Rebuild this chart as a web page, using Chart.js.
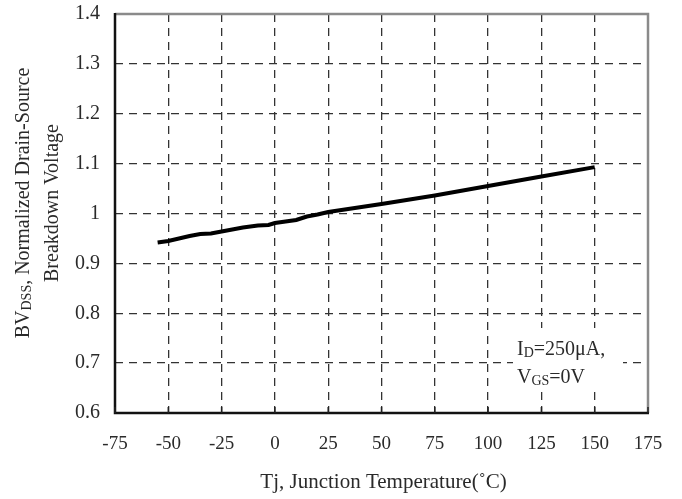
<!DOCTYPE html>
<html>
<head>
<meta charset="utf-8">
<script src="https://cdn.jsdelivr.net/npm/chart.js@4.4.1/dist/chart.umd.min.js"></script>
<style>
  html, body { margin: 0; padding: 0; background: #fff; }
  #wrap { width: 682px; height: 499px; position: relative; }
</style>
</head>
<body>
<div id="wrap"><canvas id="chart" width="682" height="499"></canvas></div>
<script>
  /* ── Data ────────────────────────────────────────────────────────────── */
  const temps   = [-55, -50, -40, -35, -30, -25, -15, -8, -3, 0, 5, 10, 15, 20, 25, 50, 75, 100, 125, 150];
  const bvNorm  = [0.942, 0.945, 0.955, 0.959, 0.960, 0.964, 0.972, 0.976, 0.977, 0.981, 0.984, 0.987, 0.994, 0.998, 1.003, 1.019, 1.036, 1.055, 1.074, 1.093];
  const xTicks  = [-75, -50, -25, 0, 25, 50, 75, 100, 125, 150, 175];
  const yTicks  = [0.6, 0.7, 0.8, 0.9, 1.0, 1.1, 1.2, 1.3, 1.4];

  const FONT = '"Liberation Serif", "DejaVu Serif", serif';
  const TEXT = '#2a2a2a';

  /* ── Helper: draw a run of [text, isSub] pieces ──────────────────────── */
  function runWidth(ctx, parts, size, subSize) {
    let w = 0;
    parts.forEach(([t, sub]) => {
      ctx.font = `${sub ? subSize : size}px ${FONT}`;
      w += ctx.measureText(t).width;
    });
    return w;
  }

  function drawRun(ctx, parts, x, y, size, subSize) {
    parts.forEach(([t, sub]) => {
      ctx.font = `${sub ? subSize : size}px ${FONT}`;
      ctx.fillText(t, x, sub ? y + size * 0.12 : y);
      x += ctx.measureText(t).width;
    });
  }

  /* ── Frame, inner ticks, titles and note ─────────────────────────────── */
  const decor = {
    id: 'decor',
    afterDatasetsDraw(chart) {
      const { ctx, chartArea: a, scales } = chart;
      ctx.save();
      ctx.setLineDash([]);

      // top / right frame (grey)
      ctx.strokeStyle = '#8a8a8a';
      ctx.lineWidth = 2.5;
      ctx.beginPath();
      ctx.moveTo(a.left, a.top);
      ctx.lineTo(a.right, a.top);
      ctx.lineTo(a.right, a.bottom);
      ctx.stroke();

      // left / bottom frame (black)
      ctx.strokeStyle = '#111';
      ctx.beginPath();
      ctx.moveTo(a.left, a.top - 1);
      ctx.lineTo(a.left, a.bottom);
      ctx.lineTo(a.right + 1, a.bottom);
      ctx.stroke();

      // short inner ticks on the bottom axis
      ctx.strokeStyle = '#222';
      ctx.lineWidth = 1.5;
      xTicks.forEach(v => {
        const px = scales.x.getPixelForValue(v);
        ctx.beginPath();
        ctx.moveTo(px, a.bottom);
        ctx.lineTo(px, a.bottom - 6);
        ctx.stroke();
      });

      // condition note with white backing
      ctx.fillStyle = '#fff';
      ctx.fillRect(513, 328, 110, 64);
      ctx.fillStyle = TEXT;
      ctx.textBaseline = 'alphabetic';
      ctx.textAlign = 'left';
      drawRun(ctx, [['I', false], ['D', true], ['=250\u03bcA,', false]], 517, 355, 20, 14);
      drawRun(ctx, [['V', false], ['GS', true], ['=0V', false]], 517, 383, 20, 14);

      // x title
      ctx.textAlign = 'center';
      ctx.font = `21px ${FONT}`;
      ctx.fillText('Tj, Junction Temperature(\u02daC)', (a.left + a.right) / 2 + 2, 488);

      // y title (rotated, two lines, subscript)
      ctx.rotate(-Math.PI / 2);
      ctx.textAlign = 'left';
      const cy = 203;
      const line1 = [['BV', false], ['DSS', true], [', Normalized Drain-Source', false]];
      const w1 = runWidth(ctx, line1, 20, 14);
      drawRun(ctx, line1, -cy - w1 / 2, 29, 20, 14);
      const line2 = [['Breakdown Voltage', false]];
      const w2 = runWidth(ctx, line2, 20, 14);
      drawRun(ctx, line2, -cy - w2 / 2, 58, 20, 14);

      ctx.restore();
    }
  };

  /* ── Chart ───────────────────────────────────────────────────────────── */
  new Chart(document.getElementById('chart').getContext('2d'), {
    type: 'line',
    data: {
      datasets: [{
        data: temps.map((t, i) => ({ x: t, y: bvNorm[i] })),
        borderColor: '#000',
        borderWidth: 4,
        pointRadius: 0,
        tension: 0,
        fill: false,
      }],
    },
    options: {
      responsive: false,
      animation: false,
      devicePixelRatio: 1,
      layout: { padding: { top: 14, right: 34, left: 0, bottom: 0 } },
      plugins: { legend: { display: false }, tooltip: { enabled: false } },
      scales: {
        x: {
          type: 'linear',
          min: xTicks[0],
          max: xTicks[xTicks.length - 1],
          afterFit: s => { s.height = 86; },
          afterBuildTicks: s => { s.ticks = xTicks.map(v => ({ value: v })); },
          ticks: {
            padding: 0,
            color: TEXT,
            font: { family: FONT, size: 19 },
            callback: v => String(v),
          },
          grid: { color: '#333', lineWidth: 1.3, drawTicks: true, tickLength: 20, tickColor: 'rgba(0,0,0,0)' },
          border: { display: false, dash: [8, 6] },
        },
        y: {
          min: yTicks[0],
          max: yTicks[yTicks.length - 1],
          afterFit: s => { s.width = 115; },
          afterBuildTicks: s => { s.ticks = yTicks.map(v => ({ value: v })); },
          ticks: {
            padding: 0,
            color: TEXT,
            font: { family: FONT, size: 20 },
            callback: v => String(+v.toFixed(1)),
          },
          grid: { color: '#333', lineWidth: 1.3, drawTicks: true, tickLength: 15, tickColor: 'rgba(0,0,0,0)' },
          border: { display: false, dash: [8, 6] },
        },
      },
    },
    plugins: [decor],
  });
</script>
</body>
</html>
